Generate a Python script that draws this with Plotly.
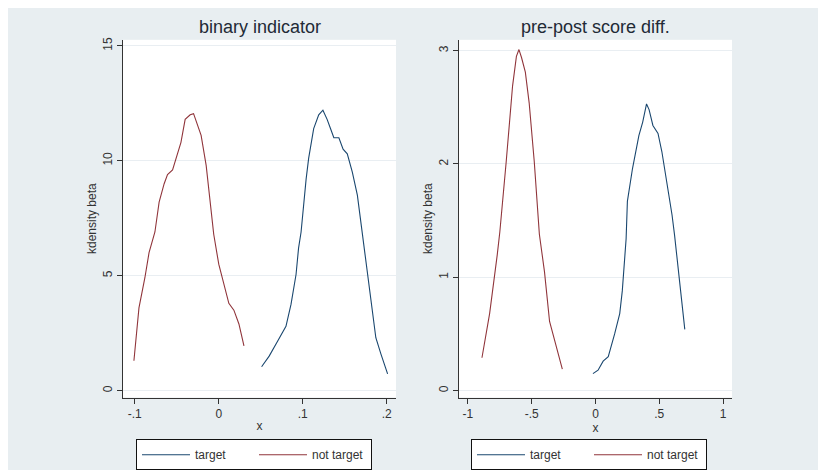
import plotly.graph_objects as go

# ---------------- data ----------------
# left panel: "binary indicator"
bin_not_target_x = [-0.101, -0.095, -0.088, -0.083, -0.076, -0.071, -0.065, -0.061, -0.055, -0.051,
                    -0.045, -0.040, -0.034, -0.030, -0.025, -0.021, -0.015, -0.010, -0.006, 0.000,
                    0.006, 0.012, 0.018, 0.024, 0.030]
bin_not_target_y = [1.3, 3.6, 4.9, 6.0, 6.9, 8.2, 9.0, 9.4, 9.6, 10.1,
                    10.8, 11.8, 12.0, 12.05, 11.5, 11.1, 9.8, 8.2, 6.8, 5.5,
                    4.6, 3.8, 3.5, 2.9, 1.95]
bin_target_x = [0.051, 0.060, 0.070, 0.080, 0.086, 0.092, 0.095, 0.098, 0.104, 0.107,
                0.113, 0.119, 0.124, 0.129, 0.133, 0.137, 0.143, 0.148, 0.153, 0.159,
                0.165, 0.171, 0.177, 0.183, 0.187, 0.193, 0.201]
bin_target_y = [1.04, 1.5, 2.15, 2.8, 3.75, 5.05, 6.2, 6.9, 9.2, 10.1,
                11.4, 12.0, 12.2, 11.8, 11.4, 11.0, 11.0, 10.5, 10.3, 9.5,
                8.5, 6.8, 5.05, 3.45, 2.3, 1.6, 0.73]

# right panel: "pre-post score diff."
diff_not_target_x = [-0.89, -0.83, -0.77, -0.75, -0.70, -0.65, -0.62, -0.60, -0.58, -0.55,
                     -0.52, -0.48, -0.44, -0.40, -0.36, -0.31, -0.26]
diff_not_target_y = [0.29, 0.68, 1.2, 1.4, 2.02, 2.69, 2.95, 3.01, 2.94, 2.81,
                     2.54, 2.02, 1.38, 1.05, 0.61, 0.41, 0.19]
diff_target_x = [-0.02, 0.02, 0.06, 0.10, 0.15, 0.19, 0.21, 0.24, 0.25, 0.29,
                 0.34, 0.37, 0.40, 0.42, 0.45, 0.49, 0.52, 0.56, 0.60, 0.62,
                 0.64, 0.67, 0.70]
diff_target_y = [0.15, 0.18, 0.26, 0.30, 0.5, 0.68, 0.88, 1.34, 1.67, 1.96,
                 2.25, 2.37, 2.53, 2.48, 2.34, 2.27, 2.11, 1.84, 1.55, 1.37,
                 1.17, 0.85, 0.54]

left_xtick_vals = [-0.1, 0, 0.1, 0.2]
left_xtick_text = ["-.1", "0", ".1", ".2"]
left_ytick_vals = [0, 5, 10, 15]
left_ytick_text = ["0", "5", "10", "15"]
right_xtick_vals = [-1, -0.5, 0, 0.5, 1]
right_xtick_text = ["-1", "-.5", "0", ".5", "1"]
right_ytick_vals = [0, 1, 2, 3]
right_ytick_text = ["0", "1", "2", "3"]

titles = ["binary indicator", "pre-post score diff."]
series_names = ["target", "not target"]

# ---------------- styling ----------------
W, H = 826, 470
OFF = 8  # page body margin offset of the figure div
BG = "#e8eef1"
NAVY = "#1a476f"
MAROON = "#90353b"
AXC = "#333333"
FONT = "Liberation Sans, Arial, sans-serif"

def px_x(p):
    return (p - OFF) / W

def px_y(p):
    return 1 - (p - OFF) / H

fig = go.Figure()

fig.add_trace(go.Scatter(x=bin_target_x, y=bin_target_y, mode="lines", name=series_names[0],
                         line=dict(color=NAVY, width=1.1), xaxis="x", yaxis="y", legend="legend"))
fig.add_trace(go.Scatter(x=bin_not_target_x, y=bin_not_target_y, mode="lines", name=series_names[1],
                         line=dict(color=MAROON, width=1.1), xaxis="x", yaxis="y", legend="legend"))
fig.add_trace(go.Scatter(x=diff_target_x, y=diff_target_y, mode="lines", name=series_names[0],
                         line=dict(color=NAVY, width=1.1), xaxis="x2", yaxis="y2", legend="legend2"))
fig.add_trace(go.Scatter(x=diff_not_target_x, y=diff_not_target_y, mode="lines", name=series_names[1],
                         line=dict(color=MAROON, width=1.1), xaxis="x2", yaxis="y2", legend="legend2"))

common_x = dict(showline=True, linecolor=AXC, linewidth=1, ticks="outside", ticklen=5,
                tickcolor=AXC, showgrid=False, zeroline=False,
                tickfont=dict(size=12, color=AXC, family=FONT),
                title=dict(text="x", font=dict(size=12, color=AXC, family=FONT), standoff=1))
common_y = dict(showline=True, linecolor=AXC, linewidth=1, ticks="outside", ticklen=5,
                tickcolor=AXC, showgrid=True, gridcolor="#e9eef2", gridwidth=1, zeroline=False,
                tickangle=-90, tickfont=dict(size=12, color=AXC, family=FONT),
                title=dict(text="kdensity beta", font=dict(size=12, color=AXC, family=FONT), standoff=1))

ytop, ybot = px_y(37), px_y(397)

legend_common = dict(orientation="h", bgcolor="white", bordercolor="#111111", borderwidth=1,
                     font=dict(size=12, color=AXC, family=FONT), xanchor="left", yanchor="top",
                     entrywidth=54, entrywidthmode="pixels", itemwidth=48, tracegroupgap=0,
                     valign="middle")

fig.update_layout(
    width=W, height=H,
    margin=dict(l=0, r=0, t=0, b=0),
    paper_bgcolor=BG, plot_bgcolor="white",
    font=dict(family=FONT, color=AXC),
    xaxis=dict(domain=[px_x(123), px_x(396)], range=[-0.114, 0.211], anchor="y",
               tickvals=left_xtick_vals, ticktext=left_xtick_text, **common_x),
    yaxis=dict(domain=[ybot, ytop], range=[-0.3, 15.26], anchor="x",
               tickvals=left_ytick_vals, ticktext=left_ytick_text, **common_y),
    xaxis2=dict(domain=[px_x(459), px_x(732)], range=[-1.07, 1.07], anchor="y2",
                tickvals=right_xtick_vals, ticktext=right_xtick_text, **common_x),
    yaxis2=dict(domain=[ybot, ytop], range=[-0.061, 3.096], anchor="x2",
                tickvals=right_ytick_vals, ticktext=right_ytick_text, **common_y),
    legend=dict(x=px_x(136), y=px_y(439), **legend_common),
    legend2=dict(x=px_x(471), y=px_y(439), **legend_common),
    showlegend=True,
    annotations=[
        dict(text=titles[0], x=(px_x(123) + px_x(396)) / 2, y=px_y(24), xref="paper", yref="paper",
             showarrow=False, font=dict(size=18, color="#222a36", family=FONT), xanchor="center", yanchor="middle"),
        dict(text=titles[1], x=(px_x(459) + px_x(732)) / 2, y=px_y(24), xref="paper", yref="paper",
             showarrow=False, font=dict(size=18, color="#222a36", family=FONT), xanchor="center", yanchor="middle"),
    ],
)

fig.write_html("out.html")
